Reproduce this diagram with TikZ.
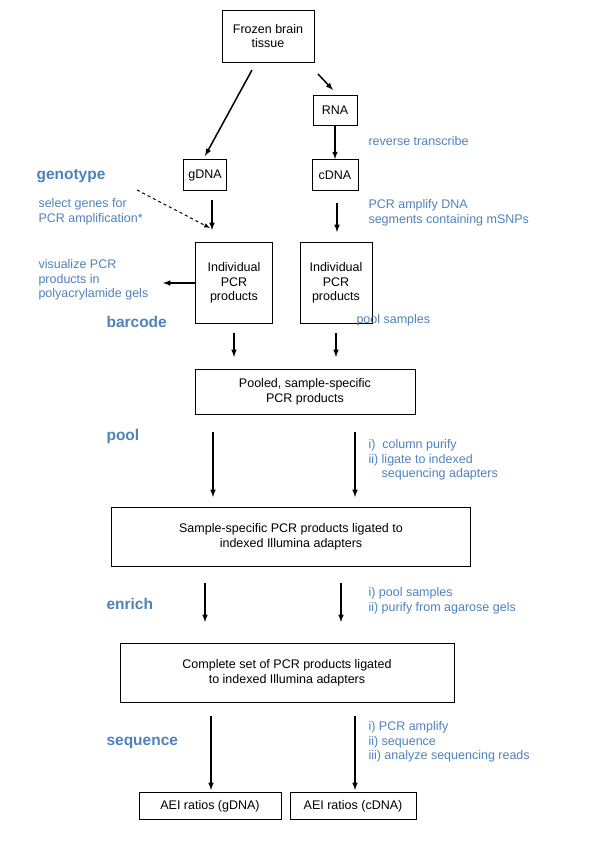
\documentclass[tikz,border=0pt]{standalone}
\usepackage{fontspec}
\setmainfont{Liberation Sans}
\usetikzlibrary{positioning}
\definecolor{stepblue}{RGB}{79,129,189}
\tikzset{
	box/.style={draw, line width=0.9pt, align=center, inner sep=3pt, font=\fontsize{12.5}{14.5}\selectfont},
	note/.style={text=stepblue, align=left, anchor=west, font=\fontsize{12.5}{14.5}\selectfont},
	stage/.style={text=stepblue, anchor=west, font=\fontsize{15.5}{17}\selectfont\bfseries},
	arr/.style={-latex, line width=1.5pt}
}
\begin{document}
\begin{tikzpicture}[x=1pt,y=-1pt]
	\useasboundingbox (0,0) rectangle (600,849);
	%boxes
	\node[box, minimum width=92, minimum height=52] (tissue) at (268,36) {Frozen brain\\tissue};
	\node[box, minimum width=44, minimum height=30] (rna) at (335,110) {RNA};
	\node[box, minimum width=43, minimum height=31] (gdna) at (205,175) {gDNA};
	\node[box, minimum width=46, minimum height=31] (cdna) at (335,175) {cDNA};
	\node[box, minimum width=77, minimum height=81] (indg) at (234,283) {Individual\\PCR\\products};
	\node[box, minimum width=72, minimum height=81] (indc) at (336,283) {Individual\\PCR\\products};
	\node[box, minimum width=220, minimum height=45] (pooled) at (305,392) {Pooled, sample-specific\\PCR products};
	\node[box, minimum width=359, minimum height=59] (ligated) at (291,537) {Sample-specific PCR products ligated to\\indexed Illumina adapters};
	\node[box, minimum width=334, minimum height=59] (complete) at (287,673) {Complete set of PCR products ligated\\to indexed Illumina adapters};
	\node[box, minimum width=142, minimum height=27] (aeig) at (210,806) {AEI ratios (gDNA)};
	\node[box, minimum width=126, minimum height=27] (aeic) at (353,806) {AEI ratios (cDNA)};
	
	%labels
	\node[stage] (genotype) at (33,176) {genotype};
	\node[stage] (barcode) at (103,322) {barcode};
	\node[stage] (pool) at (103,436) {pool};
	\node[stage] (enrich) at (103,604) {enrich};
	\node[stage] (sequence) at (103,743) {sequence};
	\node[note] (rt) at (365,141) {reverse transcribe};
	\node[note] (select) at (35,212) {select genes for\\PCR amplification*};
	\node[note] (amplify) at (365,213) {PCR amplify DNA\\segments containing mSNPs};
	\node[note] (visual) at (35,280) {visualize PCR\\products in\\polyacrylamide gels};
	\node[note] (poolsamp) at (353,320) {pool samples};
	\node[note] (purify) at (365,460) {i)\ \ column purify\\ii) ligate to indexed\\\phantom{ii) }sequencing adapters};
	\node[note] (gels) at (365,601) {i) pool samples\\ii) purify from agarose gels};
	\node[note] (reads) at (365,742) {i) PCR amplify\\ii) sequence\\iii) analyze sequencing reads};
	
	%arrows
	\draw[arr] (252,70) -- (205,156);
	\draw[arr] (318,74) -- (333,90);
	\draw[arr] (rna) -- (cdna);
	\draw[arr, dashed, line width=1pt] (137,190) -- (210,228);
	\draw[arr] (212,200) -- (212,230);
	\draw[arr] (337,203) -- (337,232);
	\draw[arr] (indg.west) -- (163,283);
	\draw[arr] (234,333) -- (234,357);
	\draw[arr] (336,333) -- (336,357);
	\draw[arr] (213,432) -- (213,497);
	\draw[arr] (355,432) -- (355,497);
	\draw[arr] (205,583) -- (205,622);
	\draw[arr] (341,583) -- (341,622);
	\draw[arr] (211,716) -- (211,790);
	\draw[arr] (355,716) -- (355,790);
\end{tikzpicture}
\end{document}
